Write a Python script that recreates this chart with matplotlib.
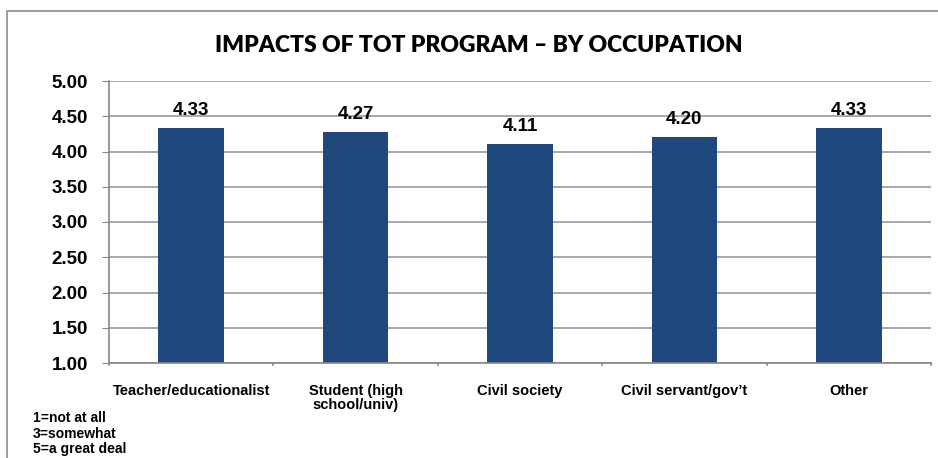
import matplotlib
matplotlib.use("Agg")
import matplotlib.pyplot as plt
from matplotlib.patches import Rectangle

categories = ["Teacher/educationalist", "Student (high\nschool/univ)", "Civil society",
              "Civil servant/gov\u2019t", "Other"]
values = [4.33, 4.27, 4.11, 4.20, 4.33]
value_labels = ["4.33", "4.27", "4.11", "4.20", "4.33"]
yticks = [1.0, 1.5, 2.0, 2.5, 3.0, 3.5, 4.0, 4.5, 5.0]
title = "IMPACTS OF TOT PROGRAM \u2013 BY OCCUPATION"
notes = "1=not at all\n3=somewhat\n5=a great deal"

W, H = 938, 458
fig = plt.figure(figsize=(W / 100, H / 100), dpi=100)
fig.patch.set_facecolor("white")

# outer chart frame
fig.add_artist(Rectangle((7 / W, -0.05), 1.1, (H - 11) / H + 0.05, transform=fig.transFigure,
                         fill=False, edgecolor="#8c8c8c", linewidth=1.2))

ax = fig.add_axes([109 / W, 1 - 363 / H, (931 - 109) / W, (363 - 81) / H])
x = list(range(len(categories)))
bars = ax.bar(x, values, width=0.4, bottom=0, color="#1f497d", zorder=3)
ax.set_xlim(-0.5, len(categories) - 0.5)
ax.set_ylim(1.0, 5.0)
ax.set_yticks(yticks)
ax.set_yticklabels([f"{v:.2f}" for v in yticks], fontsize=13.5, fontweight="bold",
                   family="Liberation Sans")
ax.set_xticks(x)
ax.set_xticklabels(categories, fontsize=10.5, fontweight="bold", family="Liberation Sans",
                   linespacing=1.0)
ax.tick_params(axis="x", length=0, pad=15)
ax.tick_params(axis="y", length=5, color="#888888", pad=10)
for b in [i - 0.5 for i in range(len(categories) + 1)]:
    ax.plot([b, b], [1.0, 0.97], color="#888888", lw=1.2, clip_on=False, zorder=4)
ax.grid(axis="y", color="#999999", linewidth=1.2, zorder=0)
for s in ["top", "right"]:
    ax.spines[s].set_visible(False)
for s in ["left", "bottom"]:
    ax.spines[s].set_color("#888888")
    ax.spines[s].set_linewidth(1.2)
ax.spines["bottom"].set_zorder(5)

for xi, v, lab in zip(x, values, value_labels):
    ax.text(xi, v + 0.13, lab, ha="center", va="bottom", fontsize=13.5, fontweight="bold",
            family="Liberation Sans")

fig.text(479 / W, 1 - 45 / H, title, ha="center", va="center", fontsize=16.5,
         fontweight="heavy", family="Lato")
fig.text(33 / W, 1 - 411 / H, notes, ha="left", va="top", fontsize=10, fontweight="bold",
         family="Liberation Sans", linespacing=1.15)

fig.savefig("out.png", dpi=100, facecolor="white")
